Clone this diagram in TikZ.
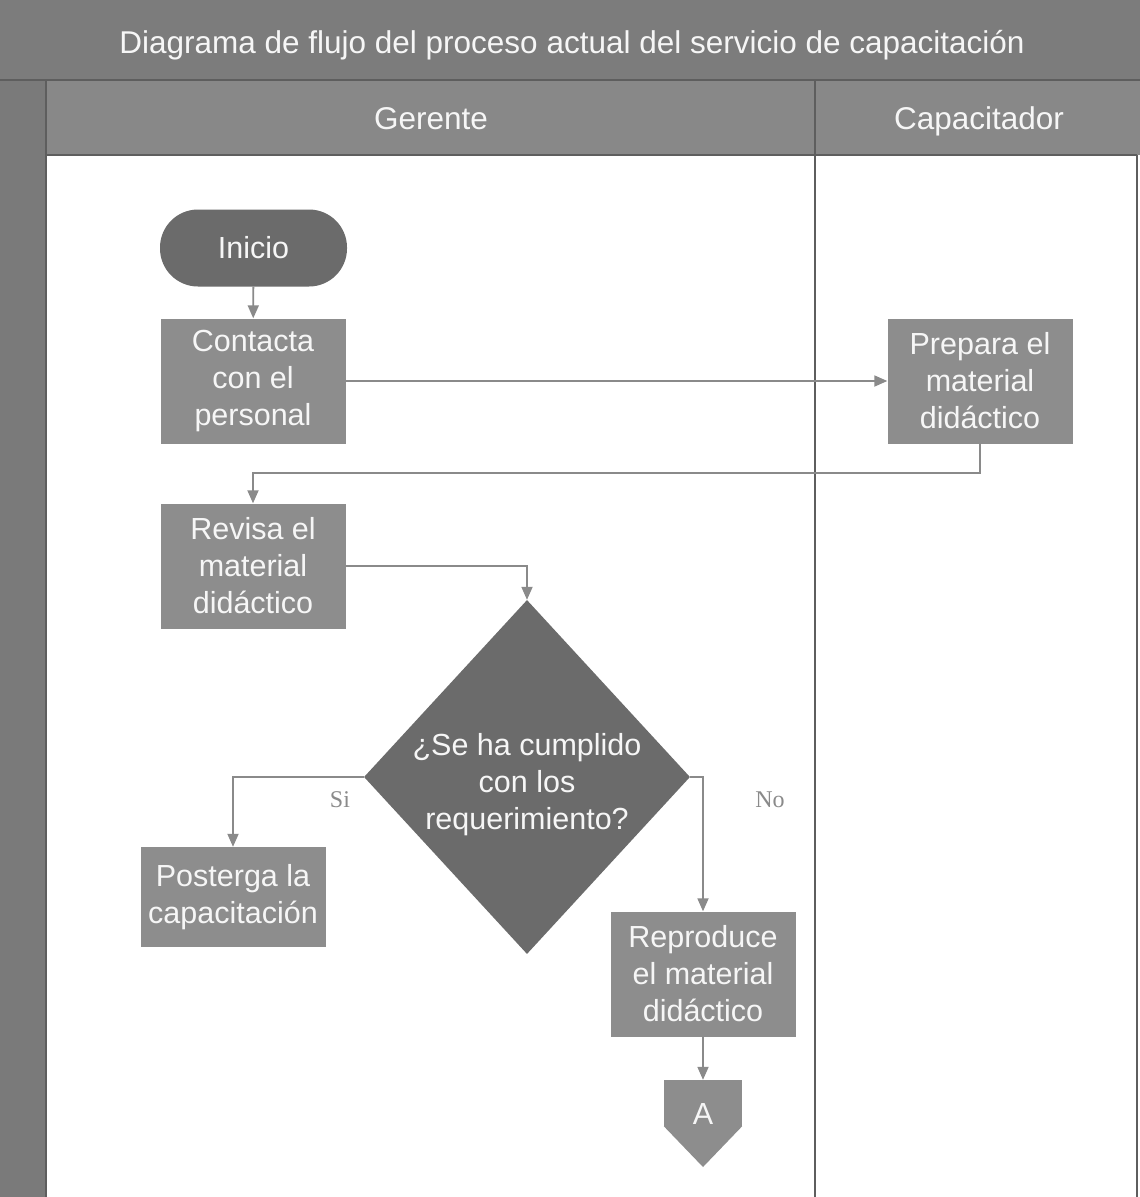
\documentclass[tikz,border=0pt]{standalone}
\usepackage{fontspec}
\setmainfont{Liberation Sans}
\newfontfamily\labelserif{Liberation Serif}
\usetikzlibrary{arrows.meta,shapes.geometric}

\definecolor{titlegray}{HTML}{7C7C7C}
\definecolor{headgray}{HTML}{888888}
\definecolor{stripgray}{HTML}{7A7A7A}
\definecolor{darkshape}{HTML}{6B6B6B}
\definecolor{boxgray}{HTML}{8D8D8D}
\definecolor{flowgray}{HTML}{8A8A8A}
\definecolor{lanegray}{HTML}{5E5E5E}
\definecolor{txtwhite}{HTML}{F6F6F6}

\tikzset{
  basefont/.style={font=\fontsize{30.5}{37}\selectfont},
  headtext/.style={font=\fontsize{31.5}{37}\selectfont, text=txtwhite, inner sep=0pt, anchor=base},
  process/.style={rectangle, fill=boxgray, text=txtwhite, basefont,
    minimum width=185pt, minimum height=125pt, inner sep=0pt, align=center},
  terminal/.style={rectangle, rounded corners=38pt, fill=darkshape, text=txtwhite,
    basefont, minimum width=187pt, minimum height=77pt, inner sep=0pt},
  decision/.style={diamond, fill=darkshape, minimum width=326pt,
    minimum height=354pt, inner sep=0pt},
  dtext/.style={text=txtwhite, basefont, align=center, inner sep=0pt},
  flow/.style={draw=flowgray, line width=1.8pt,
    -{Triangle[length=13pt,width=11pt]}},
  lane/.style={draw=lanegray, line width=1.6pt},
  branch/.style={text=flowgray, font=\labelserif\fontsize{24}{28}\selectfont, inner sep=0pt},
}

\begin{document}
\begin{tikzpicture}[x=1pt,y=-1pt]
\useasboundingbox (0,0) rectangle (1140,1197);

% pool frame: title band, lane headers, left strip, body
\fill[titlegray] (0,0) rectangle (1140,80);
\fill[headgray] (0,80) rectangle (1140,155);
\fill[stripgray] (0,80) rectangle (46,1197);
\fill[white] (46,155) rectangle (1137,1197);
\draw[lane] (0,80) -- (1140,80);
\draw[lane] (46,80) -- (46,1197);
\draw[lane] (46,155) -- (1137,155);
\draw[lane] (815,80) -- (815,1197);
\draw[lane] (1137,155) -- (1137,1197);

\node[headtext] (title) at (572,53) {Diagrama de flujo del proceso actual del servicio de capacitación};
\node[headtext] (gerente) at (431,129) {Gerente};
\node[headtext] (capacitador) at (979,129) {Capacitador};

% flow shapes
\node[terminal] (inicio) at (253.5,248) {Inicio};
\node[process] (contacta) at (253,381) {Contacta\\con el\\personal};
\node[process] (prepara) at (980,381) {Prepara el\\material\\didáctico};
\node[process] (revisa) at (253,566) {Revisa el\\material\\didáctico};
\node[decision] (q) at (527,777) {};
\node[dtext] (qtext) at (527,785) {¿Se ha cumplido\\con los\\requerimiento?};
\node[process, minimum height=100pt] (posterga) at (233,897) {Posterga la\\capacitación};
\node[process] (reproduce) at (703,974) {Reproduce\\el material\\didáctico};

% off-page connector
\node[rectangle, fill=boxgray, minimum width=78pt, minimum height=46pt, inner sep=0pt] (offA) at (703,1103) {};
\fill[boxgray] (offA.south west) -- (offA.south east) -- (703,1167) -- cycle;
\node[headtext, font=\fontsize{30.5}{37}\selectfont] (offAtext) at (703,1124) {A};

% connectors
\draw[flow] (inicio) -- (contacta);
\draw[flow] (contacta) -- (prepara);
\draw[flow] (prepara.south) -- ++(0,29) -| (revisa.north);
\draw[flow] (revisa.east) -| (q.north);
\draw[flow] (q.west) -| (posterga.north);
\draw[flow] (q.east) -| (reproduce.north);
\draw[flow] (reproduce) -- (offA);

\node[branch] (si) at (340,800) {Si};
\node[branch] (no) at (770,800) {No};
\end{tikzpicture}
\end{document}
